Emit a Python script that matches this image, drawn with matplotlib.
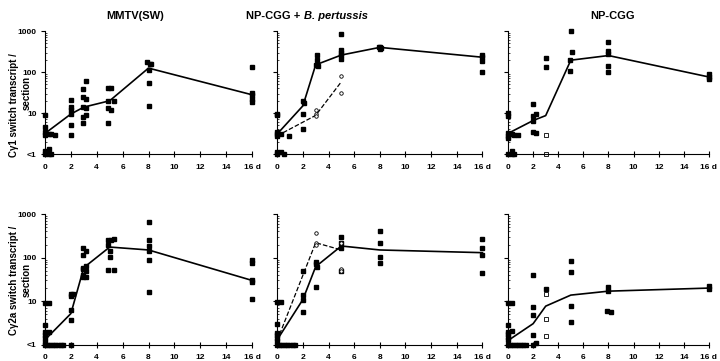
import numpy as np
import matplotlib
matplotlib.use("Agg")
import matplotlib.pyplot as plt

plt.rcParams['font.family'] = ['Liberation Sans', 'DejaVu Sans']
plt.rcParams['font.weight'] = 'bold'

# ---- data (days, transcripts/section; "<1" plotted at 1) ----
# top row: C gamma 1
mmtv1_x = [0, 0, 0, 0, 0, 0, 0.3, 0.3, 0.3, 0.5, 0.5, 0.8,
           2, 2, 2, 2, 2, 2,
           2.9, 3.2, 2.9, 3.2, 2.9, 3.2, 3.2, 2.9, 2.9,
           4.9, 5.1, 4.9, 4.9, 5.1, 4.9, 5.3,
           7.9, 8.1, 8.2, 8, 8, 8,
           16, 16, 16, 16, 16]
mmtv1_y = [9, 4.5, 3.4, 2.9, 1.2, 1, 3.1, 1.3, 1, 3.1, 1, 2.9,
           21, 14, 12, 9.6, 5.2, 2.9,
           24.5, 60, 39, 21.5, 14, 13, 9.1, 8, 5.7,
           41.5, 41, 20, 13.5, 11.6, 5.7, 20,
           175, 160, 160, 110, 55, 14.5,
           135, 31, 28, 22, 19]
mmtv1_line_x = [0, 2, 3, 5, 8, 16]
mmtv1_line_y = [3.2, 9.5, 14, 20, 125, 28]

bp1_x = [0, 0, 0, 0, 0, 0, 0, 0.3, 0.3, 0.5, 0.9,
         2, 2.1, 2, 2,
         3.1, 3.1, 3, 3.2,
         5, 5, 5, 5, 5,
         7.9, 8, 8.1, 8,
         16, 16, 16, 16]
bp1_y = [9.7, 8.8, 3.4, 3.1, 2.8, 1.1, 1, 3.1, 1.15, 1, 2.8,
         19.5, 17.8, 9.7, 4.1,
         265, 192, 150, 142,
         870, 350, 290, 255, 210,
         420, 400, 390, 370,
         260, 230, 185, 100]
bp1_line_x = [0, 2, 3, 5, 8, 16]
bp1_line_y = [3.1, 15, 150, 260, 400, 230]
bp1_open_x = [3, 3, 3, 5, 5]
bp1_open_y = [12.2, 9.7, 8.5, 81, 31]
bp1_dash_x = [0, 3, 5]
bp1_dash_y = [2.8, 8.8, 58]

np1_x = [0, 0, 0, 0, 0, 0, 0.3, 0.3, 0.3, 0.5, 0.5, 0.8,
         2, 2, 2, 2, 2.2, 2.2,
         3, 3,
         5, 5.1, 4.9, 4.9,
         8, 8, 8, 8, 8,
         16, 16, 16]
np1_y = [9.9, 8.4, 3.2, 2.7, 2.5, 1, 3.1, 1.2, 1, 3.0, 1, 2.85,
         16.3, 8.4, 6.3, 3.5, 9.5, 3.2,
         215, 135,
         980, 310, 195, 105,
         550, 320, 270, 142, 103,
         88, 76, 66]
np1_line_x = [0, 2, 3, 5, 8, 16]
np1_line_y = [3.2, 6.6, 8.7, 195, 253, 76]
np1_open_x = [3, 3]
np1_open_y = [2.95, 1]

# bottom row: C gamma 2a
base_x = [0.2, 0.4, 0.6, 0.8, 1.0, 1.2, 1.4]
mmtv2_x = [0, 0, 0, 0, 0, 0, 0, 0.3, 0.3,
           2, 2, 2, 2, 2, 2.2,
           2.9, 2.9, 2.9, 2.9, 2.9, 2.9, 3.2, 3.2, 3.2, 3.2,
           4.9, 5.1, 4.9, 5, 5, 4.9, 5.3, 5.3,
           8, 8, 8, 8, 8, 8,
           16, 16, 16, 16, 16]
mmtv2_y = [9.2, 2.8, 2.0, 1.66, 1.4, 1.17, 1, 9.2, 2.0,
           13, 14.5, 6.4, 3.7, 1, 15,
           165, 113, 56, 59, 39, 36, 140, 49, 36, 63,
           250, 260, 200, 142, 103, 51, 270, 51,
           650, 250, 185, 142, 90, 16,
           90, 75, 30, 28, 11]
mmtv2_line_x = [0, 2, 3, 5, 8, 16]
mmtv2_line_y = [1.3, 5.2, 59, 175, 150, 30]

bp2_x = [0, 0, 0, 0, 0, 0, 0, 0.3,
         2, 2, 2, 2,
         3, 3, 3.1, 3,
         5, 5, 5, 5,
         8, 8, 8, 8,
         16, 16, 16, 16]
bp2_y = [9.4, 3.0, 1.9, 1.66, 1.4, 1.2, 1, 9.4,
         50, 14, 10.9, 5.6,
         81, 71, 62, 21,
         305, 220, 165, 50,
         400, 220, 106, 77,
         270, 170, 115, 43.5]
bp2_line_x = [0, 2, 3, 5, 8, 16]
bp2_line_y = [1.3, 10.9, 62, 185, 150, 130]
bp2_open_x = [3, 3, 3, 5, 5, 5]
bp2_open_y = [360, 215, 195, 215, 55, 50]
bp2_dash_x = [0, 3, 5]
bp2_dash_y = [1.25, 220, 150]

np2_x = [0, 0, 0, 0, 0, 0, 0, 0.3, 0.3,
         2, 2, 2, 2, 2, 2.2,
         3,
         5, 5, 5, 5,
         8, 8, 7.9, 8.2,
         16, 16]
np2_y = [9.2, 2.9, 1.96, 1.73, 1.5, 1.26, 1, 9.2, 2.1,
         41, 7.4, 4.75, 1.7, 1, 1.1,
         18.6,
         85, 47, 7.9, 3.3,
         21.5, 17, 5.9, 5.6,
         22.6, 18.9]
np2_line_x = [0, 2, 3, 5, 8, 16]
np2_line_y = [1.25, 3.05, 7.7, 13.8, 17, 20]
np2_open_x = [3, 3, 3]
np2_open_y = [14.3, 3.8, 1.56]

x_ticks = [0, 2, 4, 6, 8, 10, 12, 14, 16]
x_tick_labels = ['0', '2', '4', '6', '8', '10', '12', '14', '16 d']
y_ticks = [1, 10, 100, 1000]
y_tick_labels = ['<1', '10', '100', '1000']

fig = plt.figure(figsize=(7.2, 3.61), dpi=100)
lefts = [0.0625, 0.385, 0.7056]
widths = [0.2875, 0.285, 0.279]
rows = [(0.573, 0.341), (0.045, 0.362)]

axes = []
for r, (b, h) in enumerate(rows):
    for c in range(3):
        ax = fig.add_axes([lefts[c], b, widths[c], h])
        ax.set_yscale('log')
        ax.set_xlim(0, 16)
        ax.set_ylim(1, 1000)
        ax.spines['top'].set_visible(False)
        ax.spines['right'].set_visible(False)
        ax.set_xticks(x_ticks)
        ax.set_xticklabels(x_tick_labels, fontsize=6, fontweight='bold')
        ax.set_yticks(y_ticks)
        if c == 0:
            ax.set_yticklabels(y_tick_labels, fontsize=6, fontweight='bold')
        else:
            ax.set_yticklabels([])
        ax.tick_params(axis='x', direction='inout', length=4, width=0.8, pad=5)
        ax.tick_params(axis='y', which='major', direction='out', length=3, width=0.8, pad=3)
        ax.tick_params(axis='y', which='minor', direction='in', length=1.5, width=0.5)
        axes.append(ax)


def draw(ax, sx, sy, lx, ly, ox=None, oy=None, dx=None, dy=None, base=True):
    if base:
        ax.plot(base_x, [1] * len(base_x), 's', color='black', ms=3, clip_on=False)
    ax.plot(sx, sy, 's', color='black', ms=3, clip_on=False)
    ax.plot(lx, ly, '-', color='black', lw=1.2, clip_on=False)
    if dx is not None:
        ax.plot(dx, dy, '--', color='black', lw=0.9, clip_on=False)
    if ox is not None:
        mk = 'o' if dx is not None else 's'
        ax.plot(ox, oy, mk, mfc='white', mec='black', mew=0.6, ms=3 if mk == 's' else 2.5,
                clip_on=False)


draw(axes[0], mmtv1_x, mmtv1_y, mmtv1_line_x, mmtv1_line_y, base=False)
draw(axes[1], bp1_x, bp1_y, bp1_line_x, bp1_line_y, bp1_open_x, bp1_open_y,
     bp1_dash_x, bp1_dash_y, base=False)
draw(axes[2], np1_x, np1_y, np1_line_x, np1_line_y, np1_open_x, np1_open_y, base=False)
draw(axes[3], mmtv2_x, mmtv2_y, mmtv2_line_x, mmtv2_line_y)
draw(axes[4], bp2_x, bp2_y, bp2_line_x, bp2_line_y, bp2_open_x, bp2_open_y,
     bp2_dash_x, bp2_dash_y)
draw(axes[5], np2_x, np2_y, np2_line_x, np2_line_y, np2_open_x, np2_open_y)

# y labels, two lines each
lab = dict(rotation=90, ha='center', va='center', fontsize=7, fontweight='bold')
fig.text(0.019, 0.709, 'Cγ1 switch transcript /', **lab)
fig.text(0.0375, 0.742, 'section', **lab)
fig.text(0.019, 0.224, 'Cγ2a switch transcript /', **lab)
fig.text(0.0375, 0.224, 'section', **lab)

# titles
fig.text(0.188, 0.955, 'MMTV(SW)', ha='center', va='center', fontsize=8, fontweight='bold')
t1 = fig.text(0.342, 0.955, 'NP-CGG + ', ha='left', va='center', fontsize=8,
              fontweight='bold')
axes[1].annotate('B. pertussis', xy=(1, 0), xycoords=t1, va='bottom', ha='left',
                 fontsize=8, fontweight='bold', style='italic')
fig.text(0.851, 0.955, 'NP-CGG', ha='center', va='center', fontsize=8, fontweight='bold')

fig.savefig('out.png', dpi=100)
